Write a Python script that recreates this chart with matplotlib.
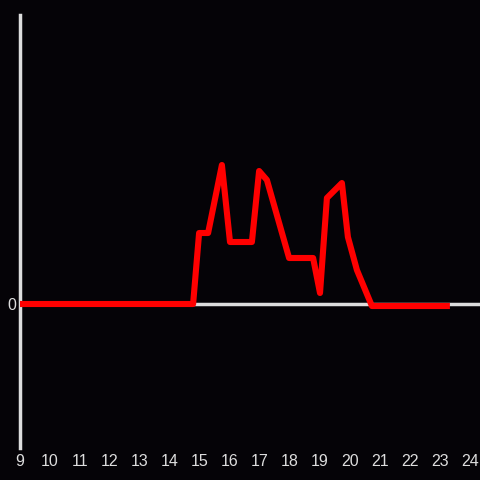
import matplotlib.pyplot as plt

# hour of day vs value
hours = [9.0, 14.77, 14.97, 15.27, 15.73, 16.0, 16.73, 16.97, 17.23, 17.97,
         18.77, 19.0, 19.23, 19.73, 19.93, 20.23, 20.73, 23.33]
values = [0, 0, 71, 71, 139, 62, 62, 133, 124, 46,
          46, 11, 106, 121, 67, 34, -2, -2]

xticks = list(range(9, 25))

bg = '#050307'
axis_col = '#dddddd'

fig = plt.figure(figsize=(4.8, 4.8), dpi=100, facecolor=bg)
ax = fig.add_axes([20 / 480, 1 - 448 / 480, 460 / 480, (448 - 15) / 480])
ax.set_facecolor(bg)

ax.axhline(0, color=axis_col, lw=2.5, zorder=1)
ax.plot(hours, values, color='#ff0000', lw=4.4, solid_joinstyle='round',
        solid_capstyle='butt', zorder=3)

ax.set_xlim(9, 24.333)
ax.set_ylim(-144, 289)

for s in ['top', 'right', 'bottom']:
    ax.spines[s].set_visible(False)
ax.spines['left'].set_color(axis_col)
ax.spines['left'].set_linewidth(2.5)

ax.set_xticks(xticks)
ax.set_xticklabels([str(t) for t in xticks])
ax.set_yticks([0])
ax.set_yticklabels(['0'])
ax.tick_params(axis='both', length=0, colors=axis_col, labelsize=11.5)
ax.tick_params(axis='x', pad=4)
ax.tick_params(axis='y', pad=3)
for lbl in ax.get_xticklabels() + ax.get_yticklabels():
    lbl.set_family('Liberation Sans')

fig.savefig('out.png', dpi=100, facecolor=bg)
